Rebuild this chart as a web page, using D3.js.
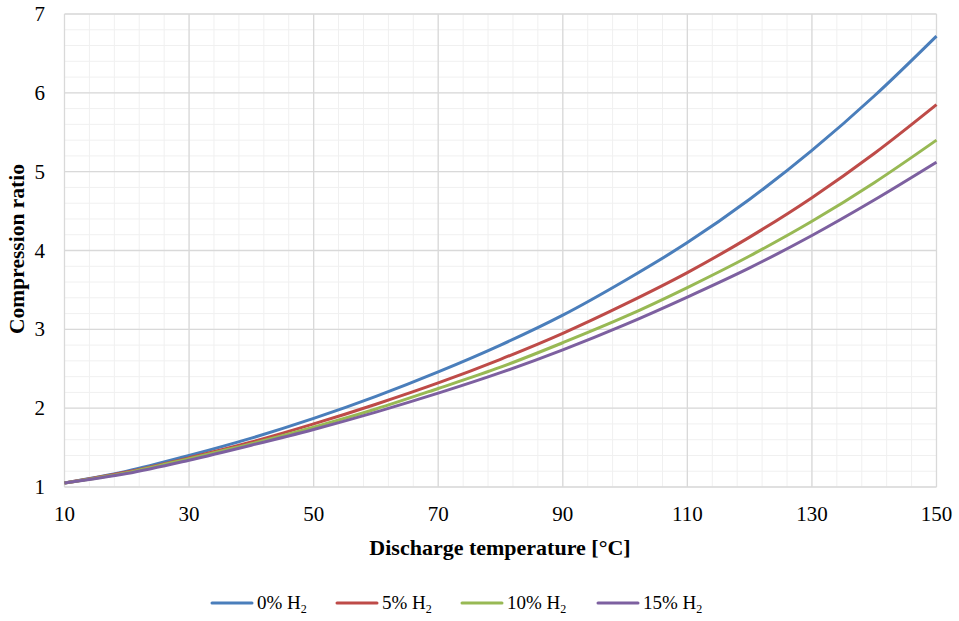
<!DOCTYPE html>
<html>
<head>
<meta charset="utf-8">
<script src="https://cdn.jsdelivr.net/npm/d3@7"></script>
<style>
  body { margin: 0; background: #fff; }
  text { font-family: "Liberation Serif", "Times New Roman", serif; fill: #000; }
</style>
</head>
<body>
<svg width="959" height="621"></svg>
<script>
// discharge temperature [°C]
const temps = [10, 20, 30, 40, 50, 60, 70, 80, 90, 100, 110, 120, 130, 140, 150];

// compression ratio per H2 share
const h2_0  = [1.05, 1.20, 1.40, 1.62, 1.87, 2.15, 2.46, 2.80, 3.18, 3.62, 4.10, 4.65, 5.27, 5.96, 6.72];
const h2_5  = [1.05, 1.19, 1.37, 1.57, 1.80, 2.05, 2.32, 2.62, 2.95, 3.32, 3.72, 4.17, 4.67, 5.23, 5.85];
const h2_10 = [1.05, 1.18, 1.36, 1.55, 1.76, 1.99, 2.25, 2.52, 2.83, 3.16, 3.53, 3.93, 4.37, 4.86, 5.40];
const h2_15 = [1.05, 1.17, 1.34, 1.53, 1.73, 1.95, 2.19, 2.45, 2.74, 3.06, 3.41, 3.78, 4.19, 4.64, 5.12];

const seriesNames = ['0%', '5%', '10%', '15%'];
const seriesValues = [h2_0, h2_5, h2_10, h2_15];
const colors = ['#4a7ebb', '#be4b48', '#98b954', '#7d60a0'];

const xTicks = [10, 30, 50, 70, 90, 110, 130, 150];
const yTicks = [1, 2, 3, 4, 5, 6, 7];

const svg = d3.select('svg');

const x = d3.scaleLinear().domain([10, 150]).range([64.5, 936.5]);
const y = d3.scaleLinear().domain([1, 7]).range([487, 14]);

const g = svg.append('g');

// minor grid
g.selectAll('.vminor')
  .data(d3.range(10, 150.01, 4))
  .enter().append('line')
  .attr('x1', d => x(d)).attr('x2', d => x(d))
  .attr('y1', y(1)).attr('y2', y(7))
  .attr('stroke', '#f0f0f0').attr('stroke-width', 1);

g.selectAll('.hminor')
  .data(d3.range(1, 7.001, 0.2))
  .enter().append('line')
  .attr('y1', d => y(d)).attr('y2', d => y(d))
  .attr('x1', x(10)).attr('x2', x(150))
  .attr('stroke', '#f0f0f0').attr('stroke-width', 1);

// major grid
g.selectAll('.vmajor')
  .data(xTicks)
  .enter().append('line')
  .attr('x1', d => x(d)).attr('x2', d => x(d))
  .attr('y1', y(1)).attr('y2', y(7))
  .attr('stroke', '#d9d9d9').attr('stroke-width', 1.3);

g.selectAll('.hmajor')
  .data(yTicks)
  .enter().append('line')
  .attr('y1', d => y(d)).attr('y2', d => y(d))
  .attr('x1', x(10)).attr('x2', x(150))
  .attr('stroke', '#d9d9d9').attr('stroke-width', 1.3);

// tick labels
g.selectAll('.ylab')
  .data(yTicks)
  .enter().append('text')
  .attr('x', 45)
  .attr('y', d => y(d) + 7)
  .attr('text-anchor', 'end')
  .attr('font-size', 21)
  .text(d => d);

g.selectAll('.xlab')
  .data(xTicks)
  .enter().append('text')
  .attr('x', d => x(d))
  .attr('y', 521)
  .attr('text-anchor', 'middle')
  .attr('font-size', 21)
  .text(d => d);

// axis titles
svg.append('text')
  .attr('transform', 'translate(24,249) rotate(-90)')
  .attr('text-anchor', 'middle')
  .attr('font-size', 21.5)
  .attr('font-weight', 'bold')
  .text('Compression ratio');

svg.append('text')
  .attr('x', 500)
  .attr('y', 555)
  .attr('text-anchor', 'middle')
  .attr('font-size', 22)
  .attr('font-weight', 'bold')
  .text('Discharge temperature [°C]');

// curves
const line = d3.line()
  .x((d, i) => x(temps[i]))
  .y(d => y(d))
  .curve(d3.curveMonotoneX);

g.selectAll('.curve')
  .data(seriesValues)
  .enter().append('path')
  .attr('fill', 'none')
  .attr('stroke', (d, i) => colors[i])
  .attr('stroke-width', 3)
  .attr('d', d => line(d));

// legend
const legendX = [212, 337, 462, 598];
const legend = svg.selectAll('.legend')
  .data(seriesNames)
  .enter().append('g')
  .attr('transform', (d, i) => `translate(${legendX[i]},603)`);

legend.append('line')
  .attr('x1', 0).attr('x2', 40)
  .attr('stroke', (d, i) => colors[i])
  .attr('stroke-width', 3)
  .attr('stroke-linecap', 'round');

const lt = legend.append('text')
  .attr('x', 45)
  .attr('y', 6)
  .attr('font-size', 19);
lt.append('tspan').text(d => d + ' H');
lt.append('tspan').attr('font-size', 12).attr('dy', 4).text('2');
</script>
</body>
</html>
